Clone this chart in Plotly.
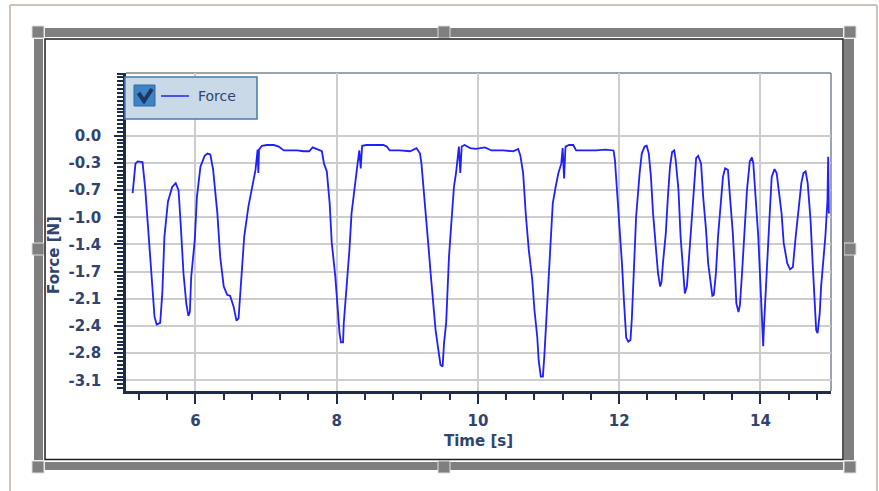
import plotly.graph_objects as go

# Force signal samples (time in seconds, force in newtons)
time_s = [
    5.11, 5.15, 5.18, 5.25, 5.29, 5.34, 5.39, 5.42, 5.45, 5.50,
    5.53, 5.56, 5.61, 5.67, 5.72, 5.76, 5.79, 5.83, 5.87, 5.90,
    5.92, 5.94, 5.99, 6.02, 6.07, 6.13, 6.17, 6.21, 6.25, 6.31,
    6.35, 6.40, 6.45, 6.49, 6.54, 6.58, 6.61, 6.65, 6.69, 6.75,
    6.81, 6.85, 6.88, 6.89, 6.90, 6.94, 7.01, 7.11, 7.18, 7.25,
    7.34, 7.44, 7.53, 7.61, 7.66, 7.72, 7.79, 7.82, 7.86, 7.90,
    7.93, 7.98, 8.01, 8.04, 8.06, 8.09, 8.10, 8.13, 8.16, 8.18,
    8.21, 8.26, 8.29, 8.32, 8.34, 8.36, 8.42, 8.57, 8.66, 8.71,
    8.75, 8.89, 9.04, 9.13, 9.18, 9.20, 9.23, 9.26, 9.30, 9.33,
    9.37, 9.40, 9.44, 9.47, 9.50, 9.52, 9.55, 9.57, 9.59, 9.63,
    9.66, 9.69, 9.72, 9.73, 9.75, 9.77, 9.81, 9.89, 9.97, 10.10,
    10.19, 10.36, 10.50, 10.57, 10.60, 10.64, 10.68, 10.72, 10.77, 10.80,
    10.84, 10.86, 10.89, 10.92, 10.94, 10.96, 10.99, 11.01, 11.04, 11.06,
    11.10, 11.14, 11.18, 11.20, 11.22, 11.24, 11.29, 11.35, 11.39, 11.67,
    11.81, 11.92, 11.94, 11.96, 12.00, 12.04, 12.07, 12.10, 12.13, 12.16,
    12.18, 12.21, 12.24, 12.29, 12.32, 12.36, 12.39, 12.42, 12.45, 12.48,
    12.52, 12.55, 12.58, 12.60, 12.62, 12.66, 12.69, 12.72, 12.75, 12.78,
    12.80, 12.84, 12.87, 12.91, 12.93, 12.96, 12.99, 13.03, 13.06, 13.09,
    13.12, 13.16, 13.19, 13.23, 13.26, 13.30, 13.32, 13.34, 13.37, 13.40,
    13.44, 13.47, 13.50, 13.54, 13.57, 13.61, 13.64, 13.66, 13.69, 13.71,
    13.74, 13.78, 13.81, 13.85, 13.88, 13.90, 13.93, 13.97, 14.00, 14.02,
    14.04, 14.05, 14.07, 14.09, 14.13, 14.16, 14.20, 14.23, 14.26, 14.30,
    14.33, 14.38, 14.42, 14.46, 14.50, 14.54, 14.58, 14.61, 14.64, 14.67,
    14.71, 14.74, 14.77, 14.79, 14.81, 14.84, 14.86, 14.88, 14.92, 14.95,
    14.96, 14.97,
]
force_n = [
    -0.74, -0.36, -0.33, -0.34, -0.70, -1.30, -1.90, -2.33, -2.43, -2.41,
    -2.03, -1.30, -0.85, -0.66, -0.61, -0.70, -1.13, -1.77, -2.16, -2.32,
    -2.27, -1.81, -1.34, -0.79, -0.40, -0.26, -0.23, -0.24, -0.44, -1.00,
    -1.56, -1.94, -2.05, -2.06, -2.20, -2.38, -2.35, -1.77, -1.30, -0.91,
    -0.61, -0.44, -0.18, -0.48, -0.18, -0.13, -0.12, -0.12, -0.14, -0.19,
    -0.19, -0.19, -0.20, -0.20, -0.15, -0.17, -0.20, -0.36, -0.46, -0.87,
    -1.38, -1.81, -2.24, -2.54, -2.66, -2.66, -2.41, -2.03, -1.77, -1.47,
    -1.00, -0.57, -0.40, -0.19, -0.42, -0.13, -0.12, -0.12, -0.12, -0.14,
    -0.19, -0.19, -0.20, -0.16, -0.23, -0.36, -0.66, -1.00, -1.43, -1.77,
    -2.16, -2.50, -2.76, -2.95, -2.97, -2.67, -2.41, -2.03, -1.56, -1.04,
    -0.66, -0.48, -0.27, -0.14, -0.48, -0.14, -0.12, -0.16, -0.17, -0.15,
    -0.19, -0.19, -0.20, -0.17, -0.25, -0.48, -1.04, -1.47, -1.86, -2.24,
    -2.59, -2.89, -3.10, -3.10, -2.84, -2.50, -2.07, -1.64, -1.21, -0.87,
    -0.66, -0.48, -0.36, -0.16, -0.55, -0.14, -0.12, -0.12, -0.19, -0.19,
    -0.18, -0.19, -0.31, -0.57, -1.08, -1.65, -2.16, -2.60, -2.65, -2.63,
    -2.35, -1.69, -1.04, -0.48, -0.23, -0.14, -0.13, -0.23, -0.53, -1.00,
    -1.43, -1.77, -1.94, -1.88, -1.64, -1.26, -0.79, -0.40, -0.21, -0.19,
    -0.31, -0.70, -1.30, -1.73, -2.03, -1.94, -1.56, -1.00, -0.57, -0.29,
    -0.26, -0.36, -0.79, -1.21, -1.64, -1.94, -2.06, -2.05, -1.77, -1.30,
    -0.83, -0.53, -0.42, -0.44, -0.79, -1.26, -1.77, -2.16, -2.27, -2.18,
    -1.77, -1.21, -0.70, -0.33, -0.28, -0.36, -0.79, -1.30, -1.90, -2.41,
    -2.71, -2.46, -2.07, -1.64, -1.04, -0.53, -0.43, -0.48, -0.68, -1.00,
    -1.38, -1.64, -1.72, -1.69, -1.30, -0.91, -0.61, -0.48, -0.46, -0.61,
    -1.08, -1.64, -2.16, -2.50, -2.54, -2.29, -1.94, -1.73, -1.30, -0.83,
    -0.27, -1.00,
]

# Axis ticks
x_tick_vals = [6, 8, 10, 12, 14]
x_tick_text = ["6", "8", "10", "12", "14"]
y_tick_vals = [0.0, -0.35, -0.70, -1.05, -1.40, -1.75, -2.10, -2.45, -2.80, -3.15]
y_tick_text = ["0.0", "-0.3", "-0.7", "-1.0", "-1.4", "-1.7", "-2.1", "-2.4", "-2.8", "-3.1"]

series_name = "Force"
x_title = "Time [s]"
y_title = "Force [N]"

# ---- page geometry (pixels) ----
FIG_W, FIG_H = 879, 491
PL, PR, PT, PB = 126, 831, 73, 391          # plot area edges
PW, PH = PR - PL, PB - PT

NAVY = "#30446f"
AXIS = "#1f2c4a"
GRID = "#cdcdcd"
LINE = "#1f1fff"
FRAME = "#7f7f7f"


def px(x):
    return (x - PL) / PW


def py(y):
    return (PB - y) / PH


def rect(x0, y0, x1, y1, fill=None, line=None, lw=0, layer="above"):
    return dict(type="rect", xref="paper", yref="paper",
                x0=px(x0), x1=px(x1), y0=py(y1), y1=py(y0),
                fillcolor=fill if fill else "rgba(0,0,0,0)",
                line=dict(color=line if line else "rgba(0,0,0,0)", width=lw),
                layer=layer)


def seg(x0, y0, x1, y1, color, lw, layer="above"):
    return dict(type="line", xref="paper", yref="paper",
                x0=px(x0), x1=px(x1), y0=py(y0), y1=py(y1),
                line=dict(color=color, width=lw), layer=layer)


shapes = []

# page border
TAN = "#cfc2ba"
shapes += [
    seg(10, 5, 10, 491, TAN, 2),
    seg(10, 5, 877, 5, TAN, 2),
    seg(877, 5, 877, 491, TAN, 2),
]

# resize frame: thick bars
shapes += [
    rect(45, 28, 843, 37, fill=FRAME),
    rect(45, 462, 843, 470, fill=FRAME),
    rect(34, 39, 43, 460, fill=FRAME),
    rect(844, 39, 854, 460, fill=FRAME),
]
# handles (corners + mid-edges)
HANDLE_EDGE = "#dedede"
for (hx, hy) in [(32, 26), (844, 26), (32, 461), (844, 461),
                 (438, 26), (438, 461), (32, 243), (844, 243)]:
    shapes.append(rect(hx, hy, hx + 12, hy + 12, fill=FRAME, line=HANDLE_EDGE, lw=1))

# inner dark outline of the control
shapes.append(rect(45, 39, 843, 459.5, line="#1e1e1e", lw=1.5))

# plot area border (top / right)
shapes.append(seg(PL, PT, PR, PT, "#7b858e", 1.5, layer="below"))
shapes.append(seg(PR, PT, PR, PB, "#7b858e", 1.5, layer="below"))

# legend box with check box and line sample
shapes += [
    rect(125, 77, 257, 119, fill="#c9d9e8", line="#4b79ad", lw=1.5),
    rect(134, 85, 155, 106, fill="#3d84c6", line="#2f6aa5", lw=1),
    dict(type="path", xref="paper", yref="paper",
         path="M {:.5f} {:.5f} L {:.5f} {:.5f} L {:.5f} {:.5f}".format(
             px(138.5), py(93), px(144), py(101), px(152), py(89)),
         line=dict(color="#1d3760", width=4), layer="above"),
    seg(161, 96, 189, 96, LINE, 1.5),
]

annotations = [
    dict(text=series_name, xref="paper", yref="paper", x=px(196), y=py(96),
         xanchor="left", yanchor="middle", showarrow=False,
         font=dict(family="DejaVu Sans", size=14, color=NAVY)),
    dict(text=x_title, xref="paper", yref="paper", x=px(478), y=py(441.5),
         xanchor="center", yanchor="middle", showarrow=False,
         font=dict(family="DejaVu Sans", size=15, color=NAVY, weight="bold")),
    dict(text=y_title, xref="paper", yref="paper", x=px(54), y=py(255),
         xanchor="center", yanchor="middle", showarrow=False, textangle=-90,
         font=dict(family="DejaVu Sans", size=15, color=NAVY, weight="bold")),
]

fig = go.Figure()
fig.add_trace(go.Scatter(x=time_s, y=force_n, mode="lines", name=series_name,
                         line=dict(color=LINE, width=1.8), showlegend=False))

tick_font = dict(family="DejaVu Sans", size=15, color=NAVY, weight="bold")

fig.update_layout(
    width=FIG_W, height=FIG_H, autosize=False,
    margin=dict(l=PL, r=FIG_W - PR, t=PT, b=FIG_H - PB, pad=0),
    paper_bgcolor="white", plot_bgcolor="white",
    shapes=shapes, annotations=annotations,
    xaxis=dict(
        range=[5.016, 15.0], tickmode="array", tickvals=x_tick_vals, ticktext=x_tick_text,
        ticks="outside", ticklen=10, tickwidth=2, tickcolor=AXIS,
        minor=dict(dtick=0.4, tick0=0, ticks="outside", ticklen=6, tickwidth=2,
                   tickcolor=AXIS, showgrid=False),
        showline=True, linecolor=AXIS, linewidth=2.5,
        showgrid=True, gridcolor=GRID, gridwidth=1.5, zeroline=False,
        tickfont=tick_font, ticklabelstandoff=4,
    ),
    yaxis=dict(
        range=[-3.286, 0.807], tickmode="array", tickvals=y_tick_vals, ticktext=y_tick_text,
        ticks="outside", ticklen=9, tickwidth=2, tickcolor=AXIS,
        minor=dict(dtick=0.05, tick0=0, ticks="outside", ticklen=6, tickwidth=1.5,
                   tickcolor=AXIS, showgrid=False),
        showline=True, linecolor=AXIS, linewidth=2.5,
        showgrid=True, gridcolor=GRID, gridwidth=1.5, zeroline=False,
        tickfont=tick_font, ticklabelstandoff=10,
    ),
)

fig.write_html("out.html")
